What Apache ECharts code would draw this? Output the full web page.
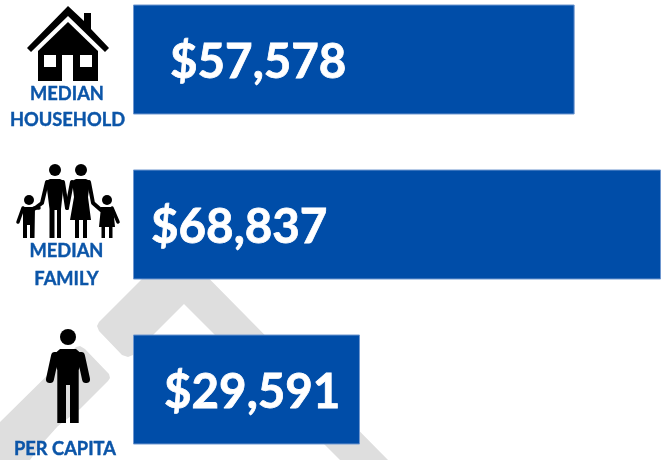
<!DOCTYPE html>
<html><head><meta charset="utf-8">
<style>html,body{margin:0;padding:0;background:#fff}#c{width:661px;height:460px}</style>
<script src="https://cdn.jsdelivr.net/npm/echarts@6/dist/echarts.min.js"></script>
</head><body><div id="c"></div>
<script>
const categories = ['MEDIAN\nHOUSEHOLD', 'MEDIAN\nFAMILY', 'PER CAPITA'];
const incomeValues = [57578, 68837, 29591];
const labelInsets = [38, 19, 32];
const BLUE = '#004da8', TEXT = '#0b55a8', GREY = '#dedede', INK = '#000';

const poly = (points, fill, z, extra) => Object.assign({type:'polygon', silent:true, z:z||2, shape:{points}, style:{fill}}, extra||{});
const stroke = (points, w) => ({type:'polyline', silent:true, z:2, shape:{points}, style:{stroke:INK, lineWidth:w, lineCap:'round', lineJoin:'round', fill:null}});
const circ = (cx, cy, r) => ({type:'circle', silent:true, z:2, shape:{cx, cy, r}, style:{fill:INK}});
const rect = (x, y, width, height, fill) => ({type:'rect', silent:true, z:3, shape:{x, y, width, height}, style:{fill:fill||INK}});
const caption = (text, x, y) => ({type:'text', silent:true, z:4, style:{text, x, y, fill:TEXT, font:'bold 18.3px Lato', align:'center', verticalAlign:'middle', stroke:TEXT, lineWidth:0.4}});

const watermark = [
  {type:'polygon', silent:true, z:-1, shape:{points:[[176,245],[388,460],[340,460],[184,304],[133,355],[128,357],[122,355],[99,331],[97,326],[99,322]]}, style:{fill:GREY}},
  {type:'polygon', silent:true, z:-1, shape:{points:[[0,422],[76,347],[80,346],[85,349],[109,374],[110,378],[108,381],[80,409],[58,426],[40,446],[30,460],[0,460]]}, style:{fill:GREY}}
];
const house = [
  poly([[68,6],[84,21],[84,13],[91,13],[91,29],[109,48],[105,52],[68,16],[31,52],[27,48]], INK),
  poly([[68,22],[98,51],[98,81],[38,81],[38,51]], INK),
  rect(44,55,12,12,'#fff'), rect(80,55,12,12,'#fff'), rect(62,55,11,26,'#fff')
];
const family = [
  circ(55,170,6), circ(81,170,6), circ(29,200,5), circ(107,200,5),
  poly([[46,181],[50,179],[60,179],[64,181],[61,209],[61,238],[57,238],[57,210],[54.5,210],[54.5,238],[49.5,238],[49.5,209]], INK),
  stroke([[47,182],[42,203],[34,209]],4), stroke([[63,182],[67,208]],4),
  poly([[72,181],[76,179],[86,179],[90,181],[88,197],[91,220],[87,220],[87,238],[83,238],[83,220],[79,220],[79,238],[75,238],[75,220],[70,220],[74,197]], INK),
  stroke([[72,182],[67,208]],4), stroke([[89,182],[93,203],[101,210]],4),
  poly([[23,207],[35,207],[34.5,238],[30,238],[30,225],[27,225],[27,238],[23,238]], INK),
  stroke([[23,208],[18,222]],3.5), stroke([[34,208],[39,208]],3.5),
  poly([[101,207],[113,207],[115,227],[112.5,227],[112.5,238],[109,238],[109,227],[105,227],[105,238],[101.5,238],[101.5,227],[99,227]], INK),
  stroke([[112,208],[118,222]],3.5)
];
const person = [
  circ(68,337,8),
  poly([[52,356],[60,349],[76,349],[84,356],[78.7,370],[78.7,423],[70,423],[70,385],[66,385],[66,423],[57.3,423],[57.3,370]], INK),
  stroke([[55,356],[50,379]],8), stroke([[81,356],[86,379]],8)
];
const captions = [
  caption('MEDIAN',67,94), caption('HOUSEHOLD',67.5,120),
  caption('MEDIAN',66.5,251), caption('FAMILY',66.5,279),
  caption('PER CAPITA',65,449)
];

const chart = echarts.init(document.getElementById('c'), null, {renderer:'canvas'});
chart.setOption({
  animation:false,
  backgroundColor:'transparent',
  grid:{left:133, width:528, top:-23, height:495, containLabel:false, outerBoundsMode:'none'},
  xAxis:{type:'value', min:0, max:68837, show:false},
  yAxis:{type:'category', inverse:true, data:categories, show:false},
  series:[{
    type:'bar', barWidth:110, z:1,
    data:incomeValues.map((v,i)=>({value:v, label:{distance:labelInsets[i]}})),
    itemStyle:{color:BLUE, borderColor:'#6f97cf', borderWidth:1},
    label:{show:true, position:'insideLeft', offset:[-1,3], color:'#fff',
      fontFamily:'Lato', fontWeight:'bold', fontSize:47.5, textBorderColor:'#fff', textBorderWidth:0.8,
      formatter:p=>'$'+p.value.toLocaleString('en-US')}
  }],
  graphic:[...watermark, ...house, ...family, ...person, ...captions]
});
</script></body></html>
